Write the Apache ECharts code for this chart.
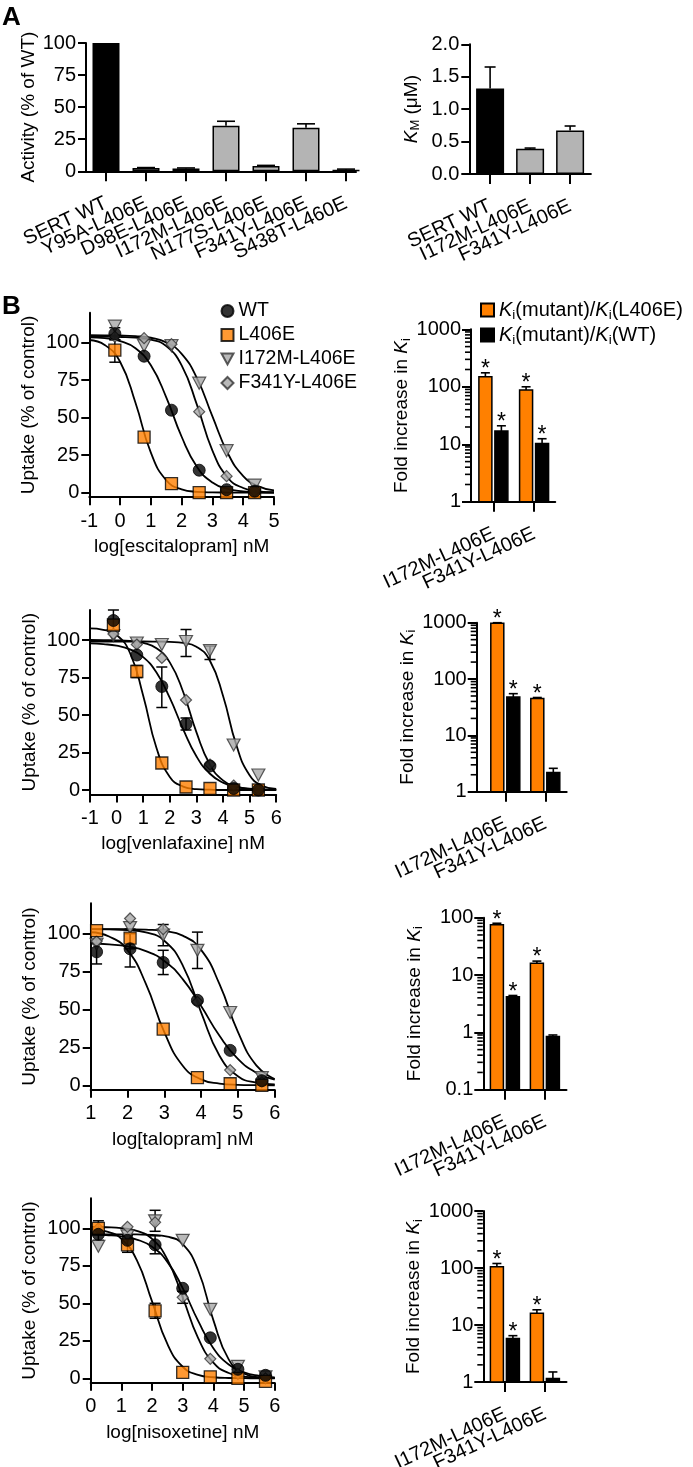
<!DOCTYPE html>
<html><head><meta charset="utf-8">
<script src="https://cdn.jsdelivr.net/npm/echarts@6/dist/echarts.min.js"></script>
<style>html,body{margin:0;padding:0;background:#fff}#c{width:693px;height:1467px}</style>
</head><body><div id="c"></div>
<script>
// ---------------- DATA ----------------
// Panel A
const actCats = ['SERT WT','Y95A-L406E','D98E-L406E','I172M-L406E','N177S-L406E','F341Y-L406E','S438T-L460E'];
const actVals = [100, 2.5, 2.2, 35.5, 4.2, 34, 1.2];
const actErrHi = [100, 2.9, 2.6, 39, 4.6, 37, 1.7];
const kmCats = ['SERT WT','I172M-L406E','F341Y-L406E'];
const kmVals = [1.32, 0.39, 0.67];
const kmErrHi = [1.65, 0.40, 0.74];

// Panel B - dose response (points: log[drug] nM, uptake % of control)
const drugs = ['escitalopram','venlafaxine','talopram','nisoxetine'];
const uptakeTicks = [0, 25, 50, 75, 100];

const escX = [-0.17, 0.78, 1.67, 2.57, 3.46, 4.37];
const escWT = [106, 91, 55, 15, 2, 1];
const escL406E = [95, 37, 6, 0, 0, 0];
const escI172M = [111, 98, 98, 73, 28, 5];
const escF341Y = [104, 103, 99, 54, 11, 1];
const escErr = [[-0.17, 87, 102], [-0.17, 102, 110]];
const escFitX = [-1,-0.5,0,0.5,1,1.5,2,2.5,3,3.5,4,4.5,5];
const escFitWT = [103.6,103.0,101.1,96.3,84.9,63.6,37.3,17.2,6.8,2.5,0.9,0.3,0.1];
const escFitL406E = [101.8,98.5,87.3,60.0,26.7,8.3,2.2,0.6,0.2,0.1,0,0,0];
const escFitI172M = [105.0,104.9,104.8,104.4,103.3,100.2,92.6,76.2,50.9,26.3,11.1,4.2,1.5];
const escFitF341Y = [104,104,103.8,103.4,102.1,97.7,84.9,58.4,28.1,10.0,3.1,0.9,0.3];

const venX = [-0.12, 0.76, 1.7, 2.61, 3.51, 4.4, 5.33];
const venWT = [113, 90, 69, 44, 16, 1, 0];
const venL406E = [110, 79, 18, 2, 1, 0, 0];
const venI172M = [103, 98, 97, 99, 93, 30, 10];
const venF341Y = [104, 97, 88, 60, 17, 3, 0];
const venErr = [[-0.12,106,120],[1.7,55,82],[2.61,89,107],[3.51,87,96],[0.76,75,83],[2.61,40,48]];
const venFitX = [-1,-0.5,0,0.5,1,1.5,2,2.5,3,3.5,4,4.5,5,5.5,6];
const venFitWT = [97.7,97.2,96.2,93.8,88.6,78.3,61.4,40.6,22.5,11.0,4.9,2.1,0.9,0.4,0.2];
const venFitL406E = [107.7,106.8,103.3,91.5,62.9,28.0,8.7,2.3,0.6,0.2,0,0,0,0,0];
const venFitI172M = [99,99,99,99,99,98.9,98.7,98.1,95.5,86.5,62.9,30.1,9.8,2.7,0.7];
const venFitF341Y = [100,99.9,99.8,99.4,98.1,94.5,85.1,65.5,38.6,17.2,6.4,2.2,0.8,0.3,0.1];

const talX = [1.16, 2.07, 2.97, 3.9, 4.79, 5.65];
const talWT = [88, 90, 81, 56, 23, 3];
const talL406E = [102, 97, 37, 5, 1, 0];
const talI172M = [93, 104, 99, 89, 48, 5];
const talF341Y = [95, 110, 103, 55, 10, 2];
const talErr = [[1.16,80,96],[2.07,78,100],[2.97,73,89],[2.97,92,106],[3.9,77,101],[2.07,90,103]];
const talFitX = [1,1.5,2,2.5,3,3.5,4,4.5,5,5.5,6];
const talFitWT = [93.5,92.9,91.6,88.5,82.0,70.0,52.2,32.6,17.4,8.3,3.7];
const talFitL406E = [100.9,98.1,89.1,66.9,35.1,12.9,3.9,1.1,0.3,0.1,0];
const talFitI172M = [103,103,102.9,102.6,101.7,98.7,89.3,66.7,35.2,13.1,4.1];
const talFitF341Y = [103,102.8,102.4,100.8,95.3,79.1,48.1,19.5,6.0,1.7,0.5];

const nisX = [0.25, 1.2, 2.1, 3.0, 3.9, 4.8, 5.7];
const nisWT = [96, 92, 89, 60, 27, 6, 2];
const nisL406E = [100, 89, 45, 4, 1, 0, -2];
const nisI172M = [88, 95, 105, 92, 46, 8, 1];
const nisF341Y = [100, 101, 104, 54, 13, 3, 0];
const nisErr = [[0.25,92,105],[2.1,83,95],[2.1,98,112],[1.2,84,95],[2.1,40,50],[3.0,50,58]];
const nisFitX = [0,0.5,1,1.5,2,2.5,3,3.5,4,4.5,5,5.5,6];
const nisFitWT = [95.8,95.4,94.6,92.5,87.7,77.6,60.1,38.4,20.1,9.2,3.9,1.6,0.6];
const nisFitL406E = [99.4,97.9,93.0,78.9,51.3,22.9,7.7,2.3,0.7,0.2,0.1,0,0];
const nisFitI172M = [96,96,96,95.9,95.6,94.4,89.4,72.2,38.8,12.6,3.2,0.7,0.2];
const nisFitF341Y = [100.9,100.7,100.1,98.3,92.9,79.2,54.0,26.9,10.4,3.5,1.1,0.4,0.1];

// Panel B - fold increase in Ki
const kiCats = ['I172M-L406E','F341Y-L406E'];
const escKiL = [150, 88],  escKiLHi = [175, 100], escKiW = [17, 10.3], escKiWHi = [21, 12.5];
const escSigL = [1, 1], escSigW = [1, 1];
const venKiL = [980, 45],  venKiLHi = [1000, 47], venKiW = [48, 2.2], venKiWHi = [55, 2.6];
const venSigL = [1, 1], venSigW = [1, 0];
const talKiL = [75, 16],   talKiLHi = [80, 17.5], talKiW = [4.2, 0.85], talKiWHi = [4.4, 0.9];
const talSigL = [1, 1], talSigW = [1, 0];
const nisKiL = [105, 16],  nisKiLHi = [120, 18.5], nisKiW = [5.8, 1.15], nisKiWHi = [6.5, 1.5];
const nisSigL = [1, 1], nisSigW = [1, 0];

// ---------------- STYLE / LAYOUT ----------------
const FONT = '"Liberation Sans", Arial, Helvetica, sans-serif';
const ORANGE = '#FF8000', BARGREY = '#B4B4B4', MKGREY = '#A8A8A8';
const AXL = {color:'#000', width:2};
const TK = {color:'#000', width:2};
const LBL = {color:'#000', fontSize:20, fontFamily:FONT};
const NAME = {color:'#000', fontSize:19, fontFamily:FONT};
const RICH = {k:{fontStyle:'italic', fontSize:19, fontFamily:FONT, color:'#000'},
              s:{fontSize:13, fontFamily:FONT, color:'#000', padding:[9,0,0,0]}};
const RICH2 = {k:{fontStyle:'italic', fontSize:20, fontFamily:FONT, color:'#000'},
              s:{fontSize:13.5, fontFamily:FONT, color:'#000', padding:[10,0,0,0]}};
const CAT_ROTATE = 25, CAT_MARGIN = 31, CAT_FONT = 20;

const curveRows = [
  {x:escX, WT:escWT, L:escL406E, I:escI172M, F:escF341Y, err:escErr, fx:escFitX, fWT:escFitWT, fL:escFitL406E, fI:escFitI172M, fF:escFitF341Y},
  {x:venX, WT:venWT, L:venL406E, I:venI172M, F:venF341Y, err:venErr, fx:venFitX, fWT:venFitWT, fL:venFitL406E, fI:venFitI172M, fF:venFitF341Y},
  {x:talX, WT:talWT, L:talL406E, I:talI172M, F:talF341Y, err:talErr, fx:talFitX, fWT:talFitWT, fL:talFitL406E, fI:talFitI172M, fF:talFitF341Y},
  {x:nisX, WT:nisWT, L:nisL406E, I:nisI172M, F:nisF341Y, err:nisErr, fx:nisFitX, fWT:nisFitWT, fL:nisFitL406E, fI:nisFitI172M, fF:nisFitF341Y}
];
const curveLayout = [
  {left:89.3, top:312.7, width:184.7, height:184.5, xmin:-1, xmax:5},
  {left:90,   top:610,   width:186.2, height:184.5, xmin:-1, xmax:6},
  {left:90.7, top:903.3, width:184,   height:186.5, xmin:1,  xmax:6},
  {left:90.7, top:1198.3,width:184,   height:184.5, xmin:0,  xmax:6}
];
const kiRows = [
  {L:escKiL, LHi:escKiLHi, W:escKiW, WHi:escKiWHi, sL:escSigL, sW:escSigW},
  {L:venKiL, LHi:venKiLHi, W:venKiW, WHi:venKiWHi, sL:venSigL, sW:venSigW},
  {L:talKiL, LHi:talKiLHi, W:talKiW, WHi:talKiWHi, sL:talSigL, sW:talSigW},
  {L:nisKiL, LHi:nisKiLHi, W:nisKiW, WHi:nisKiWHi, sL:nisSigL, sW:nisSigW}
];
const kiLayout = [
  {left:471,   top:329.3, height:172.5, xmin:-0.55, xmax:1.52, unit:40.7, ymin:1,   ymax:1000, gap:53},
  {left:476.7, top:622.7, height:169,   xmin:-0.715,xmax:1.535,unit:40,   ymin:1,   ymax:1000, gap:52},
  {left:483.3, top:917.7, height:172,   xmin:-0.54, xmax:1.54, unit:40,   ymin:0.1, ymax:100,  gap:58},
  {left:483.3, top:1211,  height:171,   xmin:-0.54, xmax:1.54, unit:40,   ymin:1,   ymax:1000, gap:58}
];

// ---------------- BUILD ----------------
const grids = [], xAxes = [], yAxes = [], series = [];
const catLabelSpecs = [], minorSpecs = [];
function addGrid(g) { grids.push(Object.assign({containLabel:false, outerBoundsMode:'none', show:false}, g)); return grids.length - 1; }
function idx(arr) { return arr.map((_, i) => i); }
function errSeries(xi, yi, data, opt) {
  return {type:'custom', xAxisIndex:xi, yAxisIndex:yi, silent:true, z:opt.z || 4, clip:false, data:data,
    renderItem:function(params, api) {
      const x = api.value(0), lo = api.value(1), hi = api.value(2), sig = api.value(3);
      const a = api.coord([x, lo]), b = api.coord([x, hi]);
      const cx = b[0] + (opt.dx || 0), h = opt.cap / 2, st = {stroke:'#000', lineWidth:opt.lw || 1.6};
      const ch = [];
      if (hi > lo) {
        ch.push({type:'line', shape:{x1:cx, y1:a[1], x2:cx, y2:b[1]}, style:st},
                {type:'line', shape:{x1:cx-h, y1:b[1], x2:cx+h, y2:b[1]}, style:st});
        if (opt.both) ch.push({type:'line', shape:{x1:cx-h, y1:a[1], x2:cx+h, y2:a[1]}, style:st});
      }
      if (sig) ch.push({type:'text', style:{x:cx, y:b[1]-3, text:'*', align:'center', verticalAlign:'middle', fontSize:23, fontFamily:FONT, fill:'#000'}});
      return {type:'group', children:ch};
    }};
}
function customBars(name, xi, yi, vals, color, dx, w, base) {
  return {type:'custom', name:name, xAxisIndex:xi, yAxisIndex:yi, z:3, clip:false,
    itemStyle:{color:color, borderColor:'#000', borderWidth:1.5},
    data: vals.map((v, j) => [j, v]),
    renderItem:function(params, api) {
      const x = api.value(0), v = api.value(1);
      const t = api.coord([x, v]), b = api.coord([x, base]);
      return {type:'rect', shape:{x:t[0]+dx-w/2, y:t[1], width:w, height:b[1]-t[1]},
              style:{fill:color, stroke:'#000', lineWidth:1.5}};
    }};
}
// category x axis: line + ticks from the axis; rotated names placed afterwards through convertToPixel
function catXAxis(g, min, max, cats, ybase) {
  catLabelSpecs.push({xi:xAxes.length, yi:yAxes.length, cats:cats, ybase:ybase});
  return {gridIndex:g, type:'value', min:min, max:max,
    axisLine:{show:true, onZero:false, lineStyle:AXL},
    axisTick:{show:true, length:10, customValues:idx(cats), lineStyle:TK},
    axisLabel:{show:false},
    splitLine:{show:false}};
}

// Panel A left
let g = addGrid({left:86, top:43, width:270, height:128.3});
xAxes.push(catXAxis(g, -0.5, 6.25, actCats, 0));
yAxes.push({gridIndex:g, type:'value', min:0, max:100, interval:25, position:'left',
  axisLine:{show:true, onZero:false, lineStyle:AXL}, axisTick:{show:true, length:8, lineStyle:TK},
  axisLabel:Object.assign({margin:10}, LBL), splitLine:{show:false},
  name:'Activity (% of WT)', nameLocation:'middle', nameGap:46, nameTextStyle:NAME});
series.push({type:'bar', xAxisIndex:0, yAxisIndex:0, barWidth:27, z:3,
  data: actVals.map((v, i) => [i, v]),
  itemStyle:{color:p => p.dataIndex === 0 ? '#000' : BARGREY, borderColor:'#000', borderWidth:1.5}});
series.push(errSeries(0, 0, actVals.map((v, i) => [i, v, actErrHi[i]]), {cap:18}));

// Panel A right
g = addGrid({left:469.3, top:44.3, width:121.6, height:129.7});
xAxes.push(catXAxis(g, -0.52, 2.52, kmCats, 0));
yAxes.push({gridIndex:g, type:'value', min:0, max:2, interval:0.5, position:'left',
  axisLine:{show:true, onZero:false, lineStyle:AXL}, axisTick:{show:true, length:8, lineStyle:TK},
  axisLabel:Object.assign({margin:10, formatter:v => v.toFixed(1)}, LBL), splitLine:{show:false},
  name:'{k|K}{s|M} (μM)', nameLocation:'middle', nameGap:47, nameTextStyle:Object.assign({rich:RICH}, NAME)});
series.push({type:'bar', xAxisIndex:1, yAxisIndex:1, barWidth:28, z:3,
  data: kmVals.map((v, i) => [i, v]),
  itemStyle:{color:p => p.dataIndex === 0 ? '#000' : BARGREY, borderColor:'#000', borderWidth:1.5}});
series.push(errSeries(1, 1, kmVals.map((v, i) => [i, v, kmErrHi[i]]), {cap:11}));

// Panel B curves
const mk = {
  WT:{symbol:'circle', symbolSize:12, symbolRotate:0, itemStyle:{color:'#000', borderColor:'#000', borderWidth:1}},
  L:{symbol:'rect', symbolSize:12, symbolRotate:0, itemStyle:{color:ORANGE, borderColor:'#000', borderWidth:1.3}},
  I:{symbol:'triangle', symbolSize:[13,12], symbolRotate:180, itemStyle:{color:MKGREY, borderColor:'#333', borderWidth:1.2}},
  F:{symbol:'diamond', symbolSize:11, symbolRotate:0, itemStyle:{color:MKGREY, borderColor:'#333', borderWidth:1.2}}
};
const nm = {WT:'WT', L:'L406E', I:'I172M-L406E', F:'F341Y-L406E'};
curveRows.forEach((r, i) => {
  const Lo = curveLayout[i];
  const gi = addGrid({left:Lo.left, top:Lo.top, width:Lo.width, height:Lo.height});
  const xi = xAxes.length;
  xAxes.push({gridIndex:gi, type:'value', min:Lo.xmin, max:Lo.xmax, interval:1,
    axisLine:{show:true, onZero:false, lineStyle:AXL}, axisTick:{show:true, length:8, lineStyle:TK},
    axisLabel:Object.assign({margin:14, showMinLabel:true, showMaxLabel:true}, LBL), splitLine:{show:false},
    name:'log[' + drugs[i] + '] nM', nameLocation:'middle', nameGap:40, nameTextStyle:NAME});
  const yi = yAxes.length;
  yAxes.push({gridIndex:gi, type:'value', min:-3, max:120, position:'left',
    axisLine:{show:true, onZero:false, lineStyle:AXL},
    axisTick:{show:true, length:8, customValues:uptakeTicks, lineStyle:TK},
    axisLabel:Object.assign({margin:10, customValues:uptakeTicks}, LBL), splitLine:{show:false},
    name:'Uptake (% of control)', nameLocation:'middle', nameGap:51, nameTextStyle:NAME});
  ['L','I','F','WT'].forEach(k => {
    const fit = r['f' + k];
    series.push({type:'line', name:nm[k] + ' fit', xAxisIndex:xi, yAxisIndex:yi, smooth:true, showSymbol:false, silent:true, z:2,
      lineStyle:{color:'#000', width:1.8}, data:r.fx.map((x, j) => [x, fit[j]])});
  });
  series.push(errSeries(xi, yi, r.err, {cap:11, both:true, lw:1.5}));
  ['I','F','L','WT'].forEach(k => {
    series.push(Object.assign({type:'scatter', name:nm[k], xAxisIndex:xi, yAxisIndex:yi, z:5,
      data:r.x.map((x, j) => [x, r[k][j]])}, mk[k]));
  });
});

// Panel B Ki
kiRows.forEach((r, i) => {
  const Lo = kiLayout[i];
  const gi = addGrid({left:Lo.left, top:Lo.top, width:(Lo.xmax - Lo.xmin) * Lo.unit, height:Lo.height});
  const xi = xAxes.length;
  xAxes.push(catXAxis(gi, Lo.xmin, Lo.xmax, kiCats, Lo.ymin));
  const major = Lo.ymin === 1 ? [1, 10, 100, 1000] : [0.1, 1, 10, 100];
  const minor = [];
  major.slice(0, -1).forEach(d => { for (let m = 2; m <= 9; m++) minor.push(+(d * m).toPrecision(3)); });
  const yi = yAxes.length;
  yAxes.push({gridIndex:gi, type:'log', logBase:10, min:Lo.ymin, max:Lo.ymax, position:'left',
    axisLine:{show:true, onZero:false, lineStyle:AXL},
    axisTick:{show:true, length:9, customValues:major, lineStyle:TK},
    axisLabel:Object.assign({margin:10, customValues:major, formatter:v => String(v), showMinLabel:true, showMaxLabel:true}, LBL),
    splitLine:{show:false}, minorTick:{show:false},
    name:'Fold increase in {k|K}{s|i}', nameLocation:'middle', nameGap:Lo.gap, nameTextStyle:Object.assign({rich:RICH}, NAME)});
  minorSpecs.push({xi:xi, yi:yi, xmin:Lo.xmin, vals:minor});
  series.push(customBars('Ki(mutant)/Ki(L406E)', xi, yi, r.L, ORANGE, -8, 13, Lo.ymin));
  series.push(customBars('Ki(mutant)/Ki(WT)', xi, yi, r.W, '#000', 8, 13, Lo.ymin));
  series.push(errSeries(xi, yi, r.L.map((v, j) => [j, v, r.LHi[j], r.sL[j]]), {cap:9, dx:-8}));
  series.push(errSeries(xi, yi, r.W.map((v, j) => [j, v, r.WHi[j], r.sW[j]]), {cap:9, dx:8}));
});

const baseGraphic = [
  {type:'text', left:2, top:5, style:{text:'A', font:'bold 26px ' + FONT, fill:'#000'}},
  {type:'text', left:2, top:294, style:{text:'B', font:'bold 26px ' + FONT, fill:'#000'}}
];
const option = {
  animation:false,
  backgroundColor:'#fff',
  textStyle:{fontFamily:FONT, color:'#000'},
  grid:grids, xAxis:xAxes, yAxis:yAxes, series:series,
  legend:[
    {data:['WT','L406E',{name:'I172M-L406E', icon:'path://M0,0 L12,0 L6,11 Z'},'F341Y-L406E'],
     orient:'vertical', left:220.5, top:301, padding:0,
     itemWidth:12, itemHeight:12, itemGap:4, selectedMode:false,
     textStyle:{fontSize:19.5, fontFamily:FONT, color:'#000', lineHeight:20}},
    {data:[{name:'Ki(mutant)/Ki(L406E)', icon:'rect'}, {name:'Ki(mutant)/Ki(WT)', icon:'rect'}],
     orient:'vertical', left:480, top:300, padding:0, itemWidth:13, itemHeight:13, itemGap:3, selectedMode:false,
     formatter:n => n.replace(/Ki/g, '{k|K}{s|i}'),
     textStyle:{fontSize:20, fontFamily:FONT, color:'#000', rich:RICH2}}
  ],
  graphic:baseGraphic
};
const chart = echarts.init(document.getElementById('c'), null, {width:693, height:1467});
chart.setOption(option);

// rotated category names and minor log ticks, positioned through the axes' own scales
const post = [];
catLabelSpecs.forEach(s => {
  s.cats.forEach((c, i) => {
    const p = chart.convertToPixel({xAxisIndex:s.xi, yAxisIndex:s.yi}, [i, s.ybase]);
    post.push({type:'text', x:p[0], y:p[1] + CAT_MARGIN, rotation:CAT_ROTATE * Math.PI / 180, silent:true, z:10,
      style:{text:c, align:'right', verticalAlign:'middle', textAlign:'right', textVerticalAlign:'middle',
             font:CAT_FONT + 'px ' + FONT, fill:'#000'}});
  });
});
minorSpecs.forEach(s => {
  s.vals.forEach(v => {
    const p = chart.convertToPixel({xAxisIndex:s.xi, yAxisIndex:s.yi}, [s.xmin, v]);
    post.push({type:'line', silent:true, z:10, shape:{x1:p[0]-6, y1:p[1], x2:p[0]-0.5, y2:p[1]},
      style:{stroke:'#000', lineWidth:1.6}});
  });
});
chart.setOption({graphic: baseGraphic.concat(post)});
</script>
</body></html>
